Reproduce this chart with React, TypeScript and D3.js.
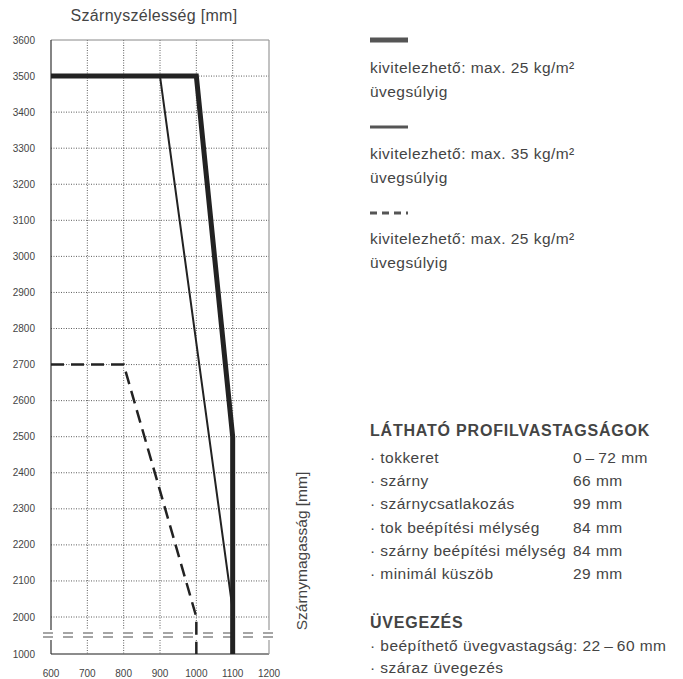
import React from "react";
import * as d3 from "d3";

const xTicks = [600, 700, 800, 900, 1000, 1100, 1200];
const yTicks = [1000, 2000, 2100, 2200, 2300, 2400, 2500, 2600, 2700, 2800, 2900, 3000, 3100, 3200, 3300, 3400, 3500, 3600];
const gridX = [700, 800, 900, 1000, 1100];
const gridY = [2000, 2100, 2200, 2300, 2400, 2500, 2600, 2700, 2800, 2900, 3000, 3100, 3200, 3300, 3400, 3500];

const series25: [number, number][] = [[600, 3500], [1000, 3500], [1100, 2500], [1100, 1000]];
const series35: [number, number][] = [[900, 3500], [1100, 2020], [1100, 1000]];
const series25d: [number, number][] = [[600, 2700], [800, 2700], [1000, 2000], [1000, 1000]];

const legendLabel1 = ["kivitelezhető: max. 25 kg/m²", "üvegsúlyig"];
const legendLabel2 = ["kivitelezhető: max. 35 kg/m²", "üvegsúlyig"];
const legendLabel3 = ["kivitelezhető: max. 25 kg/m²", "üvegsúlyig"];

const profileTitle = "LÁTHATÓ PROFILVASTAGSÁGOK";
const profileNames = ["tokkeret", "szárny", "szárnycsatlakozás", "tok beépítési mélység", "szárny beépítési mélység", "minimál küszöb"];
const profileValues = ["0\u2009–\u200972 mm", "66 mm", "99 mm", "84 mm", "84 mm", "29 mm"];
const glazingTitle = "ÜVEGEZÉS";
const glazingItems = ["beépíthető üvegvastagság: 22\u2009–\u200960 mm", "száraz üvegezés"];

const xTitle = "Szárnyszélesség [mm]";
const yTitle = "Szárnymagasság [mm]";

export default function App() {
  const x = d3.scaleLinear().domain([600, 1200]).range([51, 269]);
  const y = d3.scaleLinear().domain([1000, 2000, 3600]).range([654, 617, 40]);
  const line = d3.line<[number, number]>().x((d) => x(d[0])).y((d) => y(d[1]));
  const txt = "#444";
  const font = "'Liberation Sans', Arial, sans-serif";
  const breakTop = 630;
  const breakBot = 640;
  const fs = 15.5;
  const ls = 0.45;

  const legendLines = [
    { y: 40, w: 5, dash: undefined as string | undefined, labels: legendLabel1, ty: 73 },
    { y: 127, w: 3, dash: undefined, labels: legendLabel2, ty: 159 },
    { y: 213, w: 3, dash: "7,5", labels: legendLabel3, ty: 244 },
  ];

  return (
    <svg width={683} height={679} style={{ position: "absolute", left: 0, top: 0, background: "#fff" }} fontFamily={font}>
      <text x={154} y={21} textAnchor="middle" fontSize={16} fill={txt} letterSpacing={0.3}>{xTitle}</text>
      <text transform={`translate(307,551) rotate(-90)`} textAnchor="middle" fontSize={15.5} fill={txt}>{yTitle}</text>

      {/* grid */}
      {gridY.map((v) => (
        <line key={"gy" + v} x1={x(600)} x2={x(1200)} y1={y(v)} y2={y(v)} stroke="#333" strokeWidth={0.8} strokeDasharray="1,1.5" />
      ))}
      {gridX.map((v) => (
        <line key={"gx" + v} x1={x(v)} x2={x(v)} y1={y(3600)} y2={y(1000)} stroke="#333" strokeWidth={0.8} strokeDasharray="1,1.5" />
      ))}
      {/* frame */}
      <line x1={x(600)} x2={x(1200)} y1={y(3600)} y2={y(3600)} stroke="#888" strokeWidth={1} />
      <line x1={x(600)} x2={x(1200)} y1={y(1000)} y2={y(1000)} stroke="#666" strokeWidth={1.5} />
      <line x1={x(600)} x2={x(600)} y1={y(3600)} y2={y(1000)} stroke="#333" strokeWidth={1.2} />
      <line x1={x(1200)} x2={x(1200)} y1={y(3600)} y2={y(1000)} stroke="#999" strokeWidth={1.2} />

      {/* axis break */}
      <rect x={40} y={breakTop} width={245} height={breakBot - breakTop} fill="#fff" />
      <line x1={43} x2={280} y1={633} y2={633} stroke="#888" strokeWidth={1.3} strokeDasharray="10,10" />
      <line x1={43} x2={280} y1={637} y2={637} stroke="#888" strokeWidth={1.3} strokeDasharray="10,10" />

      {/* series */}
      <path d={line(series35) || ""} fill="none" stroke="#222" strokeWidth={2} />
      <path d={line(series25d) || ""} fill="none" stroke="#222" strokeWidth={2.5} strokeDasharray="13,7" />
      <path d={line(series25) || ""} fill="none" stroke="#222" strokeWidth={5} strokeLinejoin="miter" />

      {/* tick labels */}
      {yTicks.map((v) => (
        <text key={"yt" + v} x={35} y={y(v)} dy="0.35em" textAnchor="end" fontSize={10} fill={txt}>{v}</text>
      ))}
      {xTicks.map((v) => (
        <text key={"xt" + v} x={x(v)} y={677} textAnchor="middle" fontSize={10} fill={txt}>{v}</text>
      ))}

      {/* legend */}
      {legendLines.map((l, i) => (
        <g key={"lg" + i}>
          <line x1={370} x2={408} y1={l.y} y2={l.y} stroke="#555" strokeWidth={l.w} strokeDasharray={l.dash} />
          {l.labels.map((s, j) => (
            <text key={j} x={370} y={l.ty + j * 24} fontSize={fs} fill={txt} letterSpacing={ls}>{s}</text>
          ))}
        </g>
      ))}

      {/* info */}
      <text x={370} y={436} fontSize={16} fontWeight="bold" fill={txt} letterSpacing={0.8}>{profileTitle}</text>
      {profileNames.map((s, i) => (
        <g key={"pn" + i}>
          <text x={370} y={463 + i * 23.2} fontSize={fs} fill={txt} letterSpacing={ls}>{"· " + s}</text>
          <text x={573} y={463 + i * 23.2} fontSize={fs} fill={txt} letterSpacing={ls}>{profileValues[i]}</text>
        </g>
      ))}
      <text x={370} y={628} fontSize={16} fontWeight="bold" fill={txt} letterSpacing={0.8}>{glazingTitle}</text>
      {glazingItems.map((s, i) => (
        <text key={"gi" + i} x={370} y={651 + i * 22} fontSize={fs} fill={txt} letterSpacing={ls}>{"· " + s}</text>
      ))}
    </svg>
  );
}
